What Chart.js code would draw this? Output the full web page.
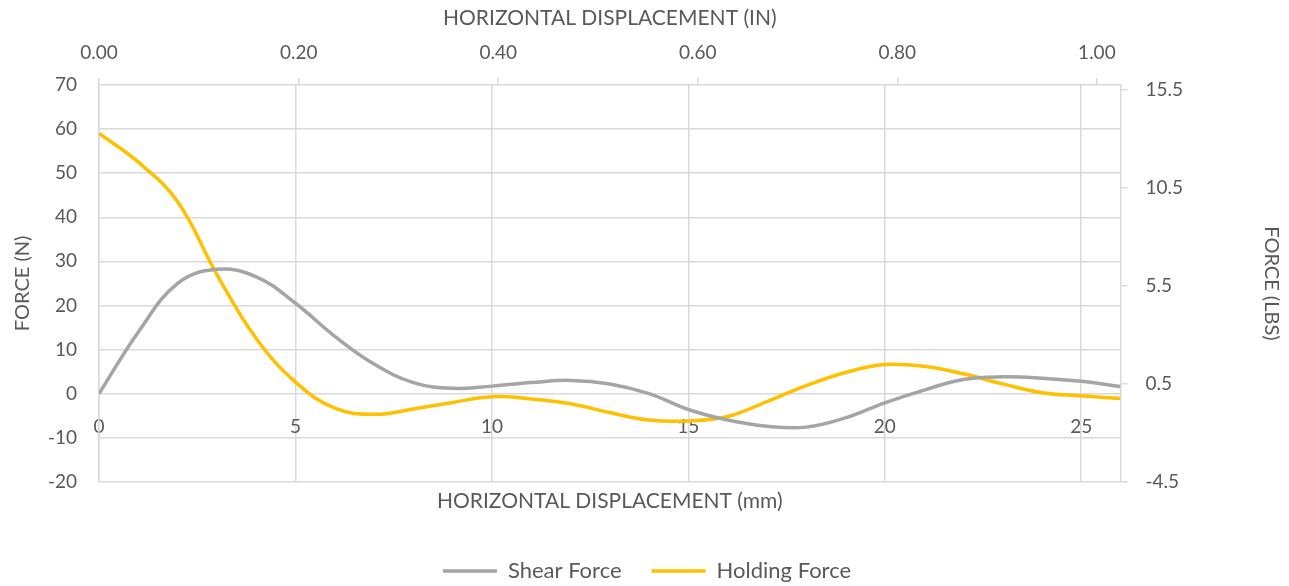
<!DOCTYPE html>
<html>
<head>
<meta charset="utf-8">
<script src="https://cdn.jsdelivr.net/npm/chart.js@4"></script>
<style>
  html, body { margin: 0; padding: 0; background: #fff; }
  #wrap { width: 1289px; height: 586px; }
</style>
</head>
<body>
<div id="wrap"><canvas id="forceChart"></canvas></div>
<script>
// Data
const displacementMm = [0, 1, 2, 3, 4, 5, 6, 7, 8, 9, 10, 11, 12, 13, 14, 15, 16, 17, 18, 19, 20, 21, 22, 23, 24, 25, 26];
const shearForce = [0, 14, 25, 28.2, 26.5, 20.5, 13, 6.7, 2.5, 1.2, 1.7, 2.5, 3.0, 2.2, 0, -3.6, -6, -7.4, -7.6, -5.5, -2.1, 0.8, 3.2, 3.8, 3.5, 2.8, 1.6];
const holdingForce = [59, 52.5, 43.5, 27, 12.5, 2.6, -3.3, -4.7, -3.5, -2, -0.7, -1.2, -2.3, -4.3, -6, -6.2, -5.2, -1.8, 1.8, 4.8, 6.6, 6.2, 4.5, 2.2, 0.2, -0.5, -1.1];

// Tick labels
const mmTicks = [0, 5, 10, 15, 20, 25];
const inchTicks = [0, 0.2, 0.4, 0.6, 0.8, 1.0];
const newtonTicks = [-20, -10, 0, 10, 20, 30, 40, 50, 60, 70];
const lbsTicks = [-4.5, 0.5, 5.5, 10.5, 15.5];

const MM_PER_IN = 25.4;
const LBS_PER_N = 0.224809;
const xMin = 0, xMax = 26;
const nMin = -20, nMax = 70;

const textColor = '#595959';
const gridColor = '#d9d9d9';
const fontFamily = 'Lato, "Open Sans", sans-serif';

Chart.defaults.font.family = fontFamily;
Chart.defaults.color = textColor;

function toPoints(values) {
    return displacementMm.map((x, i) => ({ x: x, y: values[i] }));
}

function fixedTicks(list) {
    return scale => { scale.ticks = list.map(v => ({ value: v })); };
}

const ctx = document.getElementById('forceChart').getContext('2d');
const chart = new Chart(ctx, {
    type: 'line',
    data: {
        datasets: [{
            label: 'Shear Force',
            data: toPoints(shearForce),
            borderColor: '#a5a5a5',
            backgroundColor: '#a5a5a5',
            borderWidth: 3.5,
            pointRadius: 0,
            tension: 0.4,
            xAxisID: 'x',
            yAxisID: 'y'
        }, {
            label: 'Holding Force',
            data: toPoints(holdingForce),
            borderColor: '#ffc000',
            backgroundColor: '#ffc000',
            borderWidth: 3.5,
            pointRadius: 0,
            tension: 0.4,
            xAxisID: 'x',
            yAxisID: 'y'
        }]
    },
    options: {
        responsive: true,
        maintainAspectRatio: false,
        animation: false,
        layout: {
            padding: { left: 11, right: 6, top: 6, bottom: -6 }
        },
        plugins: {
            legend: {
                position: 'bottom',
                labels: {
                    usePointStyle: true,
                    pointStyle: 'line',
                    pointStyleWidth: 54,
                    boxHeight: 3,
                    padding: 30,
                    font: { size: 22 },
                    color: textColor
                }
            },
            tooltip: { enabled: false }
        },
        scales: {
            // mm axis, labels sit on the zero line
            x: {
                type: 'linear',
                min: xMin,
                max: xMax,
                position: { y: 0 },
                afterBuildTicks: fixedTicks(mmTicks),
                grid: { color: gridColor, lineWidth: 1.5, drawTicks: false },
                border: { display: false },
                ticks: { padding: 22, font: { size: 19 }, color: textColor, maxRotation: 0 }
            },
            // bottom title only
            xb: {
                type: 'linear',
                min: xMin,
                max: xMax,
                position: 'bottom',
                grid: { display: false, drawTicks: false },
                border: { display: false },
                ticks: { display: false },
                title: {
                    display: true,
                    text: 'HORIZONTAL DISPLACEMENT (mm)',
                    font: { size: 21 },
                    color: textColor,
                    padding: { top: 7, bottom: 16 }
                }
            },
            xTop: {
                type: 'linear',
                min: xMin / MM_PER_IN,
                max: xMax / MM_PER_IN,
                position: 'top',
                afterBuildTicks: fixedTicks(inchTicks),
                grid: { drawOnChartArea: false, color: gridColor, lineWidth: 1.5, tickLength: 7 },
                border: { display: false },
                ticks: {
                    padding: 14,
                    font: { size: 19 },
                    color: textColor,
                    maxRotation: 0,
                    callback: v => v.toFixed(2)
                },
                title: {
                    display: true,
                    text: 'HORIZONTAL DISPLACEMENT (IN)',
                    font: { size: 21 },
                    color: textColor,
                    padding: { top: 0, bottom: -4 }
                }
            },
            y: {
                type: 'linear',
                min: nMin,
                max: nMax,
                position: 'left',
                afterBuildTicks: fixedTicks(newtonTicks),
                grid: { color: gridColor, lineWidth: 1.5, drawTicks: false },
                border: { display: true, color: gridColor, width: 1.5 },
                ticks: { padding: 22, font: { size: 19 }, color: textColor },
                title: {
                    display: true,
                    text: 'FORCE (N)',
                    font: { size: 20 },
                    color: textColor,
                    padding: { top: 0, bottom: -9 }
                }
            },
            yRight: {
                type: 'linear',
                min: nMin * LBS_PER_N,
                max: nMax * LBS_PER_N,
                position: 'right',
                afterBuildTicks: fixedTicks(lbsTicks),
                grid: { drawOnChartArea: false, color: gridColor, lineWidth: 1.5, tickLength: 7 },
                border: { display: true, color: gridColor, width: 1.5 },
                ticks: { padding: 18, font: { size: 19 }, color: textColor },
                title: {
                    display: true,
                    text: 'FORCE (LBS)',
                    font: { size: 20 },
                    color: textColor,
                    padding: { top: 0, bottom: 58 }
                }
            }
        }
    }
});
</script>
</body>
</html>
